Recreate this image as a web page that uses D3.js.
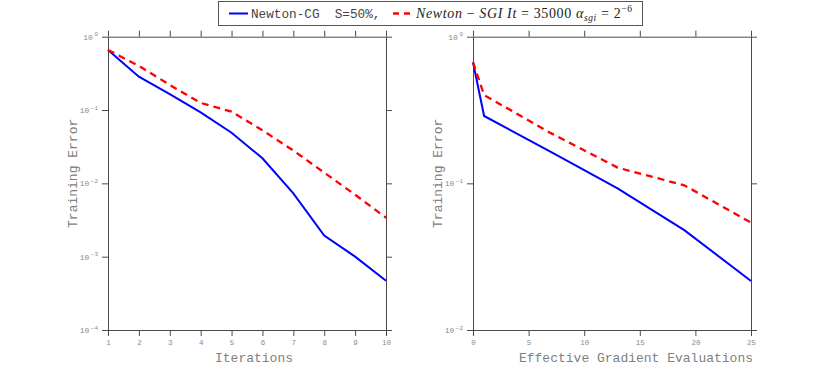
<!DOCTYPE html>
<html>
<head>
<meta charset="utf-8">
<script src="https://cdn.jsdelivr.net/npm/d3@7"></script>
<style>
  body { margin: 0; background: #fff; }
  svg { display: block; }
</style>
</head>
<body>
<script>
// data
const iterations = [1, 2, 3, 4, 5, 6, 7, 8, 9, 10]
const cgError = [0.66, 0.285, 0.165, 0.093, 0.049, 0.022, 0.0073, 0.00194, 0.00100, 0.00047]
const sgiError = [0.66, 0.40, 0.22, 0.125, 0.095, 0.053, 0.028, 0.014, 0.0070, 0.0034]

const gradEvals = [0, 1, 7, 13, 19, 25]
const cgEvalError = [0.67, 0.288, 0.164, 0.0925, 0.048, 0.0216]
const sgiEvalError = [0.67, 0.40, 0.22, 0.128, 0.097, 0.054]

const iterTicks = [1, 2, 3, 4, 5, 6, 7, 8, 9, 10]
const evalTicks = [0, 5, 10, 15, 20, 25]

const width = 830
const height = 371

const svg = d3.select("body")
    .append("svg")
    .attr("width", width)
    .attr("height", height)

const mono = "'Liberation Mono', 'DejaVu Sans Mono', monospace"
const axisColor = "#4a4a4a"

function supLabel(sel, exp) {
    sel.text("10")
    sel.append("tspan")
        .attr("dx", 1.5)
        .attr("dy", "-0.55em")
        .style("font-size", "6px")
        .text(exp < 0 ? "\u2212" + (-exp) : exp)
}

function drawPanel(opts) {
    const { left, right, top, bottom } = opts

    const x = d3.scaleLinear().domain(opts.xDomain).range([left, right])
    const y = d3.scaleLog().domain(opts.yDomain).range([bottom, top])
    const yTicks = d3.range(Math.log10(opts.yDomain[0]), 1).map(e => Math.pow(10, e))

    const g = svg.append("g")

    // frame + outward ticks on all four sides
    const axes = [
        ["bottom", d3.axisBottom(x).tickValues(opts.xTicks).tickFormat(d3.format("d")), `translate(0,${bottom})`],
        ["top", d3.axisTop(x).tickValues(opts.xTicks), `translate(0,${top})`],
        ["left", d3.axisLeft(y).tickValues(yTicks), `translate(${left},0)`],
        ["right", d3.axisRight(y).tickValues(yTicks), `translate(${right},0)`]
    ]
    axes.forEach(([side, gen, tr]) => {
        const a = g.append("g")
            .attr("transform", tr)
            .call(gen.tickSizeInner(6).tickSizeOuter(0).tickPadding(4))
        a.select(".domain").attr("stroke", axisColor).attr("stroke-width", 1)
        a.selectAll(".tick line").attr("stroke", axisColor)
        const labels = a.selectAll(".tick text")
            .style("font-family", mono)
            .style("font-size", "7.5px")
            .attr("fill", "#8a8a8a")
        if (side === "top" || side === "right") labels.remove()
        if (side === "left") {
            labels.style("font-size", "8px").each(function(v) {
                supLabel(d3.select(this), Math.round(Math.log10(v)))
            })
        }
    })

    const line = d3.line()
        .x(d => x(d[0]))
        .y(d => y(d[1]))

    g.append("path")
        .datum(opts.xs.map((v, i) => [v, opts.cg[i]]))
        .attr("d", line)
        .attr("fill", "none")
        .attr("stroke", "#0000ff")
        .attr("stroke-width", 2)

    g.append("path")
        .datum(opts.xs.map((v, i) => [v, opts.sgi[i]]))
        .attr("d", line)
        .attr("fill", "none")
        .attr("stroke", "#ff0000")
        .attr("stroke-width", 2.3)
        .attr("stroke-dasharray", "7,5")

    // labels
    g.append("text")
        .attr("x", opts.xLabelX)
        .attr("y", 362)
        .attr("text-anchor", "middle")
        .style("font-family", mono)
        .style("font-size", "13px")
        .attr("fill", "#808080")
        .text(opts.xLabel)

    g.append("text")
        .attr("transform", `translate(${opts.yLabelX},${(top + bottom) / 2 - 10}) rotate(-90)`)
        .attr("text-anchor", "middle")
        .style("font-family", mono)
        .style("font-size", "13px")
        .attr("fill", "#808080")
        .text("Training Error")
}

drawPanel({
    left: 108, right: 386, top: 36.7, bottom: 330,
    xDomain: [1, 10], yDomain: [1e-4, 1],
    xTicks: iterTicks,
    xs: iterations, cg: cgError, sgi: sgiError,
    xLabel: "Iterations", xLabelX: 254, yLabelX: 77
})

drawPanel({
    left: 473, right: 751, top: 36.7, bottom: 330,
    xDomain: [0, 25], yDomain: [1e-2, 1],
    xTicks: evalTicks,
    xs: gradEvals, cg: cgEvalError, sgi: sgiEvalError,
    xLabel: "Effective Gradient Evaluations", xLabelX: 636, yLabelX: 442
})

// legend
const legend = svg.append("g")
legend.append("rect")
    .attr("x", 218.5).attr("y", 1.5)
    .attr("width", 424).attr("height", 24)
    .attr("fill", "#fff")
    .attr("stroke", "#555")

legend.append("line")
    .attr("x1", 229).attr("x2", 248)
    .attr("y1", 13.5).attr("y2", 13.5)
    .attr("stroke", "#0000ff").attr("stroke-width", 2)

legend.append("text")
    .attr("x", 251).attr("y", 18)
    .style("font-family", mono)
    .style("font-size", "12.7px")
    .attr("fill", "#444")
    .attr("xml:space", "preserve")
    .text("Newton-CG  S=50%,")

legend.append("line")
    .attr("x1", 393).attr("x2", 414)
    .attr("y1", 13.5).attr("y2", 13.5)
    .attr("stroke", "#ff0000").attr("stroke-width", 2.3)
    .attr("stroke-dasharray", "6,5")

const math = legend.append("text")
    .attr("x", 416).attr("y", 18)
    .attr("textLength", 216)
    .attr("lengthAdjust", "spacing")
    .style("font-family", "'Liberation Serif', 'DejaVu Serif', serif")
    .style("font-size", "14px")
    .attr("fill", "#222")
    .attr("xml:space", "preserve")

const parts = [
    ["Newton", "italic"], [" \u2212 ", "normal"], ["SGI It", "italic"],
    [" = 35000 ", "normal"], ["\u03b1", "italic"]
]
parts.forEach(([t, s]) => math.append("tspan").style("font-style", s).text(t))
math.append("tspan").style("font-style", "italic").style("font-size", "9.5px")
    .attr("dy", 3).text("sgi")
math.append("tspan").attr("dy", -3).text(" = 2")
math.append("tspan").style("font-size", "9.5px").attr("dy", -6).text("\u22126")
</script>
</body>
</html>
